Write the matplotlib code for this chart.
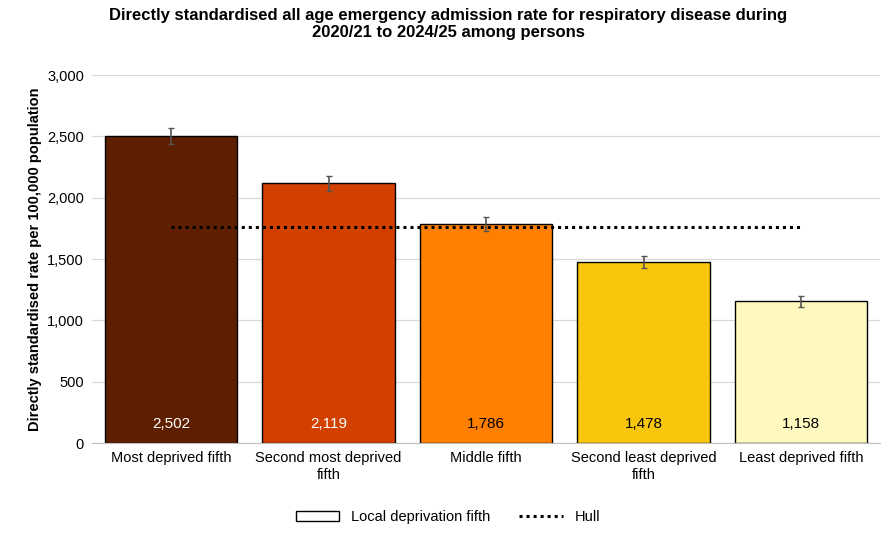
import matplotlib
matplotlib.use("Agg")
import matplotlib.pyplot as plt
from matplotlib.patches import Patch
from matplotlib.lines import Line2D

categories = ["Most deprived fifth", "Second most deprived\nfifth", "Middle fifth",
              "Second least deprived\nfifth", "Least deprived fifth"]
values = [2502, 2119, 1786, 1478, 1158]
err_low = [65, 60, 55, 50, 45]
err_high = [65, 60, 55, 50, 45]
hull_value = 1765
colors = ["#5E1F00", "#D24000", "#FF8000", "#F8C60C", "#FFF8BF"]
label_colors = ["white", "white", "black", "black", "black"]

plt.rcParams['font.family'] = ['Liberation Sans', 'DejaVu Sans']
fig = plt.figure(figsize=(8.96, 5.37), dpi=100)
ax = fig.add_axes([0.103, 0.175, 0.879, 0.685])
x = list(range(len(values)))
ax.bar(x, values, width=0.84, color=colors, edgecolor="black", linewidth=1, zorder=2)
ax.errorbar(x, values, yerr=[err_low, err_high], fmt="none", ecolor="#555555",
            capsize=2.5, elinewidth=1.2, zorder=3)
ax.plot([x[0], x[-1]], [hull_value, hull_value], color="black", linestyle=(0, (1, 1.3)),
        linewidth=2.2, zorder=4)
for xi, v, c in zip(x, values, label_colors):
    ax.text(xi, 100, f"{v:,}", ha="center", va="bottom", color=c, fontsize=11, zorder=5)
ax.set_ylim(0, 3000)
ax.set_xlim(-0.5, 4.5)
ax.set_yticks(range(0, 3001, 500))
ax.set_yticklabels([f"{t:,}" for t in range(0, 3001, 500)], fontsize=10.5)
ax.set_xticks(x)
ax.set_xticklabels(categories, fontsize=10.5)
ax.tick_params(axis="both", length=0, pad=6)
ax.grid(axis="y", color="#D9D9D9", linewidth=0.9, zorder=0)
for s in ["top", "right", "left"]:
    ax.spines[s].set_visible(False)
ax.spines["bottom"].set_color("#BFBFBF")
ax.set_ylabel("Directly standardised rate per 100,000 population", fontsize=10.5, fontweight="bold")
fig.suptitle("Directly standardised all age emergency admission rate for respiratory disease during\n2020/21 to 2024/25 among persons",
             fontsize=12, fontweight="bold", y=0.985)
handles = [Patch(facecolor="white", edgecolor="black", label="Local deprivation fifth"),
           Line2D([0], [0], color="black", linestyle=(0, (1, 1.3)), linewidth=2.2, label="Hull")]
fig.legend(handles=handles, loc="lower center", bbox_to_anchor=(0.5, 0.0), ncol=2,
           frameon=False, fontsize=10.5, handlelength=3)
fig.savefig("out.png", dpi=100)
